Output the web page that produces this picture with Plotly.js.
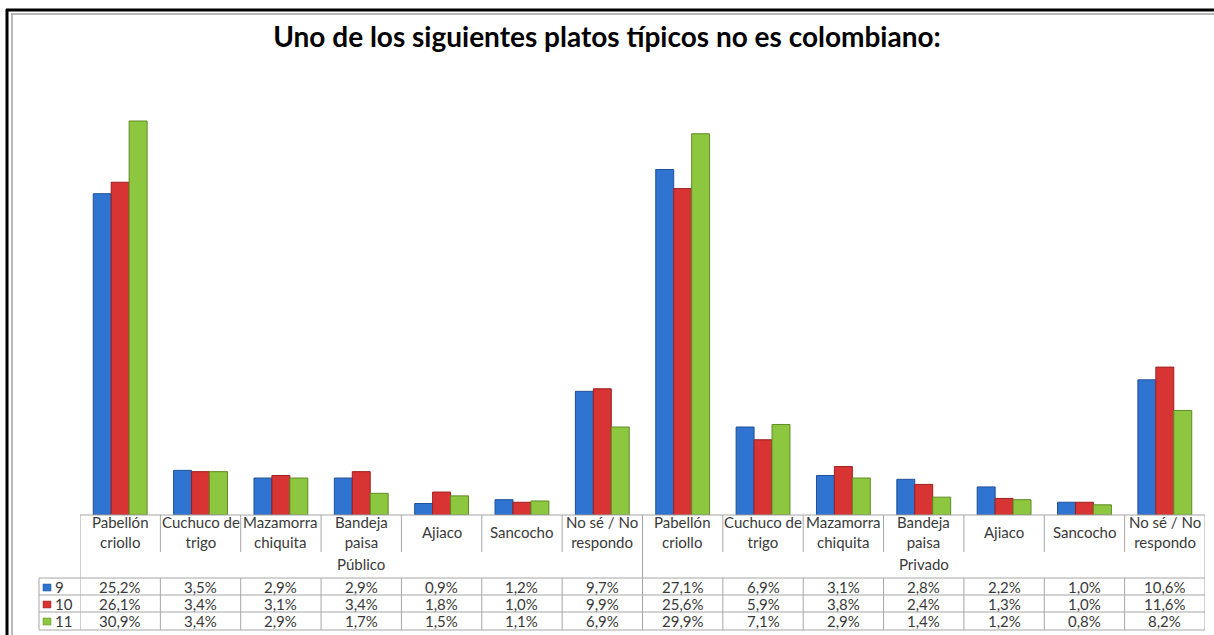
<!DOCTYPE html>
<html>
<head>
<meta charset="utf-8">
<script src="https://cdn.plot.ly/plotly-3.0.1.min.js"></script>
<style>html,body{margin:0;padding:0;background:#fff;}#chart{width:1214px;height:635px;}</style>
</head>
<body>
<div id="chart"></div>
<script>
// ---- data ----
const categories = ["Pabellón<br>criollo","Cuchuco de<br>trigo","Mazamorra<br>chiquita","Bandeja<br>paisa","Ajiaco","Sancocho","No sé / No<br>respondo",
                    "Pabellón<br>criollo","Cuchuco de<br>trigo","Mazamorra<br>chiquita","Bandeja<br>paisa","Ajiaco","Sancocho","No sé / No<br>respondo"];
const groups = ["Público","Privado"];
const seriesNames = ["9","10","11"];
const grade9  = [25.2,3.5,2.9,2.9,0.9,1.2,9.7, 27.1,6.9,3.1,2.8,2.2,1.0,10.6];
const grade10 = [26.1,3.4,3.1,3.4,1.8,1.0,9.9, 25.6,5.9,3.8,2.4,1.3,1.0,11.6];
const grade11 = [30.9,3.4,2.9,1.7,1.5,1.1,6.9, 29.9,7.1,2.9,1.4,1.2,0.8,8.2];
const titleText = "Uno de los siguientes platos típicos no es colombiano:";

// ---- styling ----
const colors = ["#2f74d0","#d83434","#8dc63f"];
const edges  = ["#1f4f96","#9a2020","#5f8a26"];
const allSeries = [grade9, grade10, grade11];
const xs = categories.map((c,i)=>i);

const traces = allSeries.map((vals,s)=>({
  type:'bar', x:xs, y:vals, name:seriesNames[s],
  marker:{color:colors[s], line:{color:edges[s], width:1}},
  hoverinfo:'skip'
}));

// pixel helpers (plot area: l=80,r=9,t=60,b=120 => baseline py=515, height 455)
const PW=1125, PH=455, L=80, BASE=515;
const px2x = p => (p-L)/PW;
const py2y = p => (BASE-p)/PH;

const shapes = [];
const ann = [];
const lineStyle = {color:'#a6a6a6', width:1};
const yTop=0, yLab=py2y(552), yRow0=py2y(578), yRow1=py2y(595), yRow2=py2y(612), yRow3=py2y(630);
const nC = categories.length;
// vertical boundaries
for (let k=0;k<=nC;k++){
  const xb = k-0.5;
  const full = (k===0 || k===nC || k===7);
  if (full){
    shapes.push({type:'line',xref:'x',yref:'paper',x0:xb,x1:xb,y0:yTop,y1:yRow3,line:lineStyle});
  } else {
    shapes.push({type:'line',xref:'x',yref:'paper',x0:xb,x1:xb,y0:yTop,y1:yLab,line:lineStyle});
    shapes.push({type:'line',xref:'x',yref:'paper',x0:xb,x1:xb,y0:yRow0,y1:yRow3,line:lineStyle});
  }
}
// top line of table
shapes.push({type:'line',xref:'x',yref:'paper',x0:-0.5,x1:nC-0.5,y0:0,y1:0,line:lineStyle});
// row lines
const legLeft = px2x(39);
[yRow0,yRow1,yRow2,yRow3].forEach(y=>{
  shapes.push({type:'line',xref:'paper',yref:'paper',x0:legLeft,x1:px2x(80),y0:y,y1:y,line:lineStyle});
  shapes.push({type:'line',xref:'x',yref:'paper',x0:-0.5,x1:nC-0.5,y0:y,y1:y,line:lineStyle});
});
shapes.push({type:'line',xref:'paper',yref:'paper',x0:legLeft,x1:legLeft,y0:yRow0,y1:yRow3,line:lineStyle});

// outer frame
shapes.push({type:'line',xref:'paper',yref:'paper',x0:px2x(6),x1:px2x(1216),y0:py2y(10),y1:py2y(10),line:{color:'#000',width:3}});
shapes.push({type:'line',xref:'paper',yref:'paper',x0:px2x(7),x1:px2x(7),y0:py2y(9),y1:py2y(640),line:{color:'#000',width:3}});
shapes.push({type:'line',xref:'paper',yref:'paper',x0:px2x(11),x1:px2x(1216),y0:py2y(14),y1:py2y(14),line:{color:'#a0a0a0',width:1.5}});
shapes.push({type:'line',xref:'paper',yref:'paper',x0:px2x(12),x1:px2x(12),y0:py2y(14),y1:py2y(640),line:{color:'#a0a0a0',width:1.5}});

const tfont = {family:'Lato, "Open Sans", sans-serif', size:15, color:'#3a3a3a'};
// category labels
categories.forEach((c,i)=>{
  ann.push({xref:'x',yref:'paper',x:i,y:py2y(532),text:c,showarrow:false,font:tfont,xanchor:'center',yanchor:'middle'});
});
// group labels
groups.forEach((g,j)=>{
  ann.push({xref:'x',yref:'paper',x:3+7*j,y:py2y(564),text:g,showarrow:false,font:tfont,xanchor:'center',yanchor:'middle'});
});
// data rows
const rowCenters = [587,604,621];
const fmt = v => v.toFixed(1).replace('.',',')+'%';
allSeries.forEach((vals,s)=>{
  vals.forEach((v,i)=>{
    ann.push({xref:'x',yref:'paper',x:i,y:py2y(rowCenters[s]),text:fmt(v),showarrow:false,font:tfont,xanchor:'center',yanchor:'middle'});
  });
  // legend key
  shapes.push({type:'rect',xref:'paper',yref:'paper',x0:px2x(43),x1:px2x(51),y0:py2y(rowCenters[s]-3),y1:py2y(rowCenters[s]+4),fillcolor:colors[s],line:{color:edges[s],width:0.5}});
  ann.push({xref:'paper',yref:'paper',x:px2x(53),y:py2y(rowCenters[s]),text:seriesNames[s],showarrow:false,font:tfont,xanchor:'left',yanchor:'middle'});
});

const layout = {
  width:1214, height:635,
  margin:{l:L, r:9, t:60, b:120, pad:0},
  paper_bgcolor:'#fff', plot_bgcolor:'#fff',
  title:{text:'<b>'+titleText+'</b>', font:{family:'Lato, "Open Sans", sans-serif', size:28, color:'#000'}, x:0.5, xanchor:'center', xref:'container', y:1-37/635, yref:'container', yanchor:'middle'},
  showlegend:false,
  barmode:'group', bargap:0.33, bargroupgap:0,
  xaxis:{range:[-0.5,nC-0.5], showticklabels:false, showgrid:false, zeroline:false, showline:false, ticks:'', fixedrange:true},
  yaxis:{range:[0,PH/12.75], showticklabels:false, showgrid:false, zeroline:false, showline:false, ticks:'', fixedrange:true},
  shapes:shapes, annotations:ann
};
Plotly.newPlot('chart', traces, layout, {displayModeBar:false, staticPlot:true});
</script>
</body>
</html>
